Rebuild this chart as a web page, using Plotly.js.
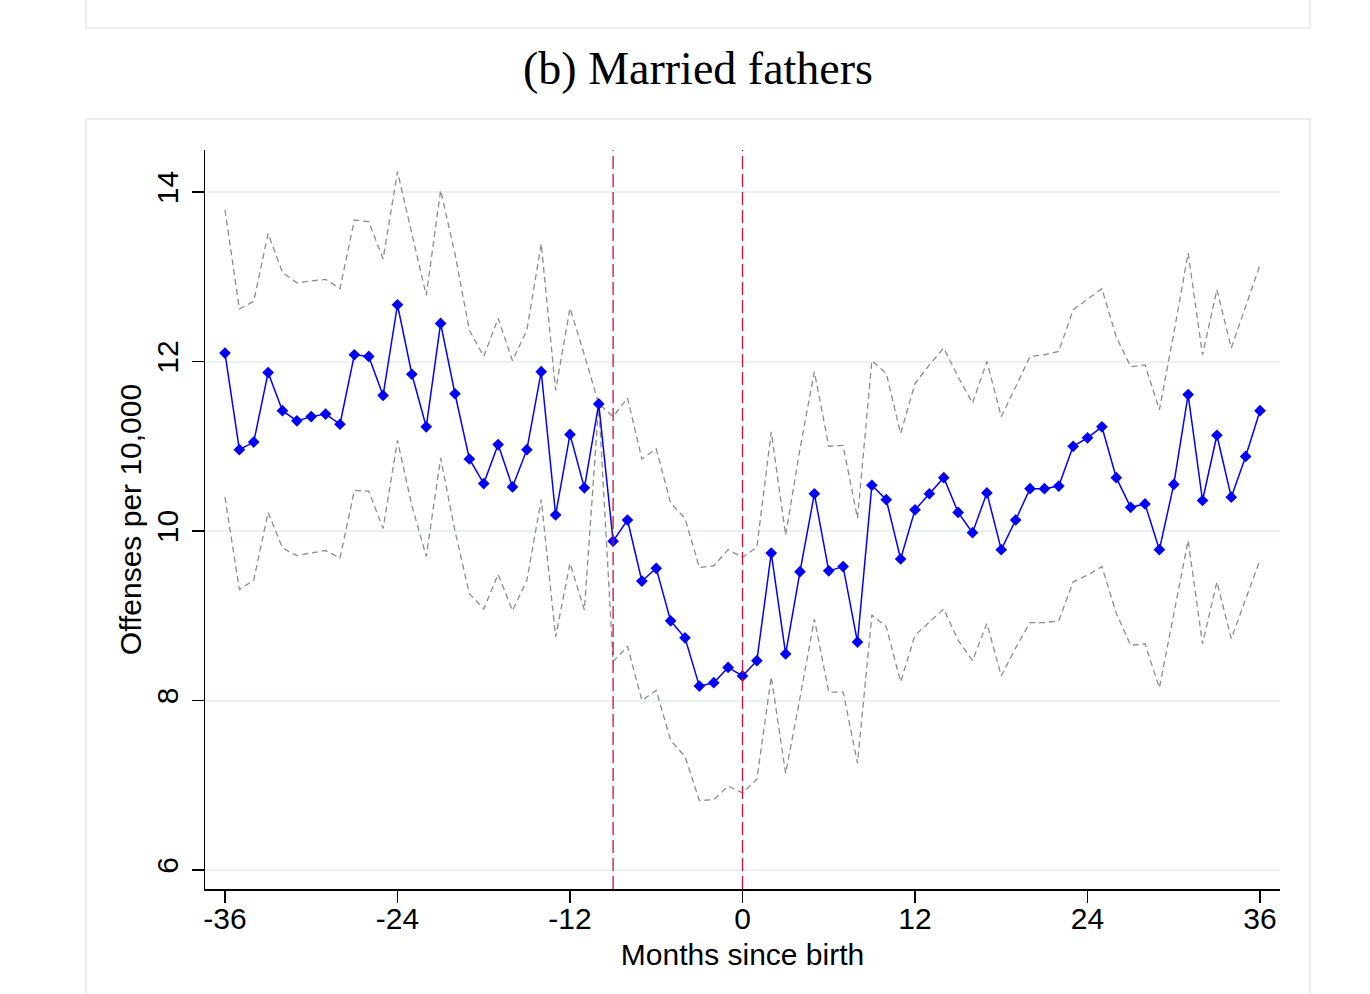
<!DOCTYPE html>
<html>
<head>
<meta charset="utf-8">
<script src="https://cdn.plot.ly/plotly-3.0.1.min.js"></script>
<style>
html,body{margin:0;padding:0;background:#fff;}
#chart{width:1370px;height:994px;}
</style>
</head>
<body>
<div id="chart"></div>
<script>
const months = [-36,-35,-34,-33,-32,-31,-30,-29,-28,-27,-26,-25,-24,-23,-22,-21,-20,-19,-18,-17,-16,-15,-14,-13,-12,-11,-10,-9,-8,-7,-6,-5,-4,-3,-2,-1,0,1,2,3,4,5,6,7,8,9,10,11,12,13,14,15,16,17,18,19,20,21,22,23,24,25,26,27,28,29,30,31,32,33,34,35,36];

const estimate = [12.10,10.96,11.05,11.87,11.42,11.30,11.35,11.38,11.26,12.08,12.06,11.60,12.67,11.85,11.23,12.45,11.62,10.85,10.56,11.02,10.52,10.96,11.88,10.19,11.14,10.51,11.50,9.88,10.13,9.41,9.56,8.94,8.74,8.17,8.21,8.39,8.29,8.47,9.74,8.55,9.52,10.44,9.53,9.58,8.69,10.54,10.37,9.67,10.25,10.44,10.63,10.22,9.98,10.45,9.78,10.13,10.50,10.50,10.53,11.00,11.10,11.23,10.63,10.28,10.32,9.78,10.55,11.61,10.36,11.13,10.40,10.88,11.42];

const upperCI = [13.79,12.62,12.71,13.51,13.05,12.93,12.95,12.97,12.86,13.67,13.65,13.21,14.24,13.50,12.78,14.02,13.27,12.37,12.06,12.51,12.01,12.37,13.39,11.66,12.63,12.08,11.50,11.35,11.57,10.85,10.97,10.33,10.15,9.57,9.59,9.78,9.69,9.81,11.17,9.95,10.97,11.88,11.00,11.01,10.15,12.01,11.86,11.15,11.74,11.96,12.16,11.82,11.51,12.00,11.35,11.70,12.06,12.08,12.12,12.61,12.73,12.86,12.29,11.94,11.96,11.43,12.33,13.28,12.08,12.85,12.16,12.65,13.14];

const lowerCI = [10.40,9.31,9.42,10.22,9.80,9.71,9.74,9.77,9.68,10.48,10.47,10.03,11.07,10.30,9.70,10.86,10.00,9.26,9.08,9.49,9.06,9.42,10.37,8.75,9.62,9.07,11.50,8.46,8.64,8.00,8.12,7.53,7.34,6.82,6.83,6.99,6.91,7.07,8.28,7.14,8.03,8.96,8.10,8.10,7.26,9.01,8.87,8.22,8.77,8.93,9.08,8.71,8.47,8.91,8.29,8.62,8.92,8.92,8.94,9.40,9.48,9.58,9.03,8.65,8.67,8.15,9.03,9.89,8.67,9.40,8.73,9.19,9.66];

const xTicks = [-36,-24,-12,0,12,24,36];
const yTicks = [6,8,10,12,14];
const eventLines = [-9,0];

const traces = [
  {x: months, y: upperCI, type:'scatter', mode:'lines',
   line:{color:'#8c8c8c', width:1.3, dash:'6px,4px'}, hoverinfo:'skip'},
  {x: months, y: lowerCI, type:'scatter', mode:'lines',
   line:{color:'#8c8c8c', width:1.3, dash:'6px,4px'}, hoverinfo:'skip'},
  {x: months, y: estimate, type:'scatter', mode:'lines+markers',
   line:{color:'#0000ff', width:1.5},
   marker:{symbol:'diamond', size:9, color:'#0000ff'}}
];

const panelLine = {color:'#e4eaec', width:1.5};
const shapes = [
  {type:'rect', xref:'paper', yref:'paper', x0:-0.1107, x1:1.0279, y0:1.165, y1:1.25,
   line:panelLine, fillcolor:'rgba(0,0,0,0)', layer:'below'},
  {type:'rect', xref:'paper', yref:'paper', x0:-0.1107, x1:1.0279, y0:-0.17, y1:1.0419,
   line:panelLine, fillcolor:'rgba(0,0,0,0)', layer:'below'}
];
eventLines.forEach(v => shapes.push({
  type:'line', xref:'x', yref:'paper', x0:v, x1:v, y0:0, y1:1,
  line:{color:'#d0103a', width:1.3, dash:'13px,5px'}
}));

const layout = {
  width:1370, height:994,
  margin:{l:205, r:90, t:150, b:105},
  paper_bgcolor:'#ffffff', plot_bgcolor:'#ffffff',
  showlegend:false,
  font:{family:'"Liberation Sans", Arial, sans-serif', color:'#000', size:30},
  title:{text:'(b) Married fathers', font:{family:'"Liberation Serif", "DejaVu Serif", serif', size:46, color:'#000'},
         xref:'container', yref:'container', x:0.5095, y:0.9316, xanchor:'center', yanchor:'middle'},
  xaxis:{range:[-37.39,37.39], tickvals:xTicks, ticktext:xTicks.map(String),
         showgrid:false, zeroline:false, showline:true, linecolor:'#000', linewidth:1.5,
         ticks:'outside', ticklen:12, tickwidth:1.3, tickcolor:'#000', ticklabelstandoff:-10,
         tickfont:{size:30}, title:{text:'Months since birth', font:{size:30}, standoff:10}},
  yaxis:{range:[5.776,14.496], tickvals:yTicks, ticktext:yTicks.map(String), tickangle:-90,
         showgrid:true, gridcolor:'#eaf1f2', gridwidth:2, zeroline:false,
         showline:true, linecolor:'#000', linewidth:1.5,
         ticks:'outside', ticklen:12, tickwidth:1.3, tickcolor:'#000', ticklabelstandoff:2,
         tickfont:{size:30}, title:{text:'Offenses per 10,000', font:{size:30}, standoff:0}},
  shapes: shapes
};

Plotly.newPlot('chart', traces, layout, {displayModeBar:false, staticPlot:true});
</script>
</body>
</html>
